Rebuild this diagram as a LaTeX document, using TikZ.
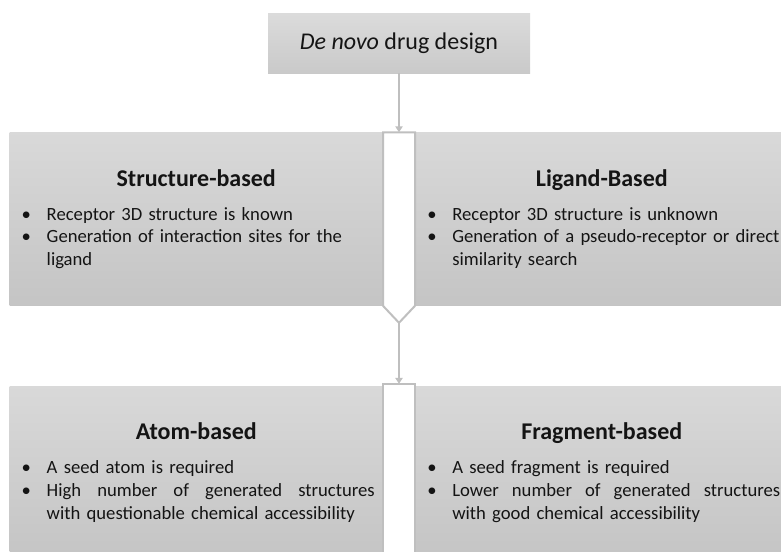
\documentclass[tikz,border=0pt]{standalone}
\usepackage{fontspec}
\setmainfont{Carlito}
\usepackage{xcolor}
\usetikzlibrary{positioning,calc,arrows.meta}

\definecolor{linegray}{RGB}{191,191,191}
\definecolor{inkgray}{RGB}{20,20,20}

% panel contents
\newcommand{\ptitle}[1]{{\centering\fontsize{18}{21}\selectfont\bfseries #1\par}\vspace{8.5pt}}
\newcommand{\pitem}[1]{\par\noindent\leftskip=0pt\rightskip=6pt\parfillskip=0pt plus 1fil
  \hangindent=27.75pt\hangafter=1\hspace*{9pt}\makebox[18.75pt][l]{\textbullet}#1}
\newcommand{\jline}[1]{\hbox to 246pt{#1}}

\begin{document}
\begin{tikzpicture}[x=0.75pt, y=-0.75pt, node distance=1cm,
        topbox/.style={rectangle, top color=gray!28, bottom color=gray!42, minimum width=196.5pt,
            minimum height=45pt, inner sep=0pt, text=inkgray, font=\fontsize{18}{21}\selectfont},
        panel/.style={rectangle, top color=gray!30, bottom color=gray!46, minimum width=279.75pt,
            minimum height=129.75pt, text width=279.75pt, inner sep=0pt, text=inkgray,
            font=\fontsize{14}{17}\selectfont},
        barline/.style={draw=linegray, line width=1.5pt, line join=miter},
        >={Triangle[length=4.5pt,width=5.5pt]}
    ]
        \useasboundingbox (0,0) rectangle (781,551);
        \clip (0,0) rectangle (781,551);

        \node [topbox] (denovo) at (399,43) {\textit{De novo} drug design};

        \node [panel, below left=44.25pt and 12pt of denovo.south] (sbased)
            {\ptitle{Structure-based}\pitem{Receptor 3D structure is known}%
             \pitem{Generation of interaction sites for the\hfil\break ligand}\par};
        \node [panel, right=24pt of sbased] (lbased)
            {\ptitle{Ligand-Based}\pitem{Receptor 3D structure is unknown}%
             \pitem{Generation of a pseudo-receptor or direct\hfil\break similarity search}\par};
        \node [panel, below=60pt of sbased] (abased)
            {\ptitle{Atom-based}\pitem{A seed atom is required}%
             \pitem{\jline{High\hfill number\hfill of\hfill generated\hfill structures}\hfil\break
               with questionable chemical accessibility}\par};
        \node [panel, right=24pt of abased] (fbased)
            {\ptitle{Fragment-based}\pitem{A seed fragment is required}%
             \pitem{\jline{Lower\hfill number\hfill of\hfill generated\hfill structures}\hfil\break
               with good chemical accessibility}\par};

        \coordinate (bar1top) at ($(sbased.north east)!0.5!(lbased.north west)$);
        \coordinate (vtip) at ($(sbased.south east)!0.5!(lbased.south west)+(0,-12.75pt)$);
        \coordinate (bar2top) at ($(abased.north east)!0.5!(fbased.north west)+(0,1.5pt)$);

        % white separators between the panels
        \draw [barline, fill=white] (sbased.north east) -- (lbased.north west) -- (lbased.south west)
            -- (vtip) -- (sbased.south east) -- cycle;
        \draw [barline, fill=white] (abased.south east) -- ($(abased.north east)+(0,1.5pt)$)
            -- ($(fbased.north west)+(0,1.5pt)$) -- (fbased.south west);

        \draw [barline, ->] (denovo) -- (bar1top);
        \draw [barline, ->] (vtip) -- (bar2top);
    \end{tikzpicture}
\end{document}
